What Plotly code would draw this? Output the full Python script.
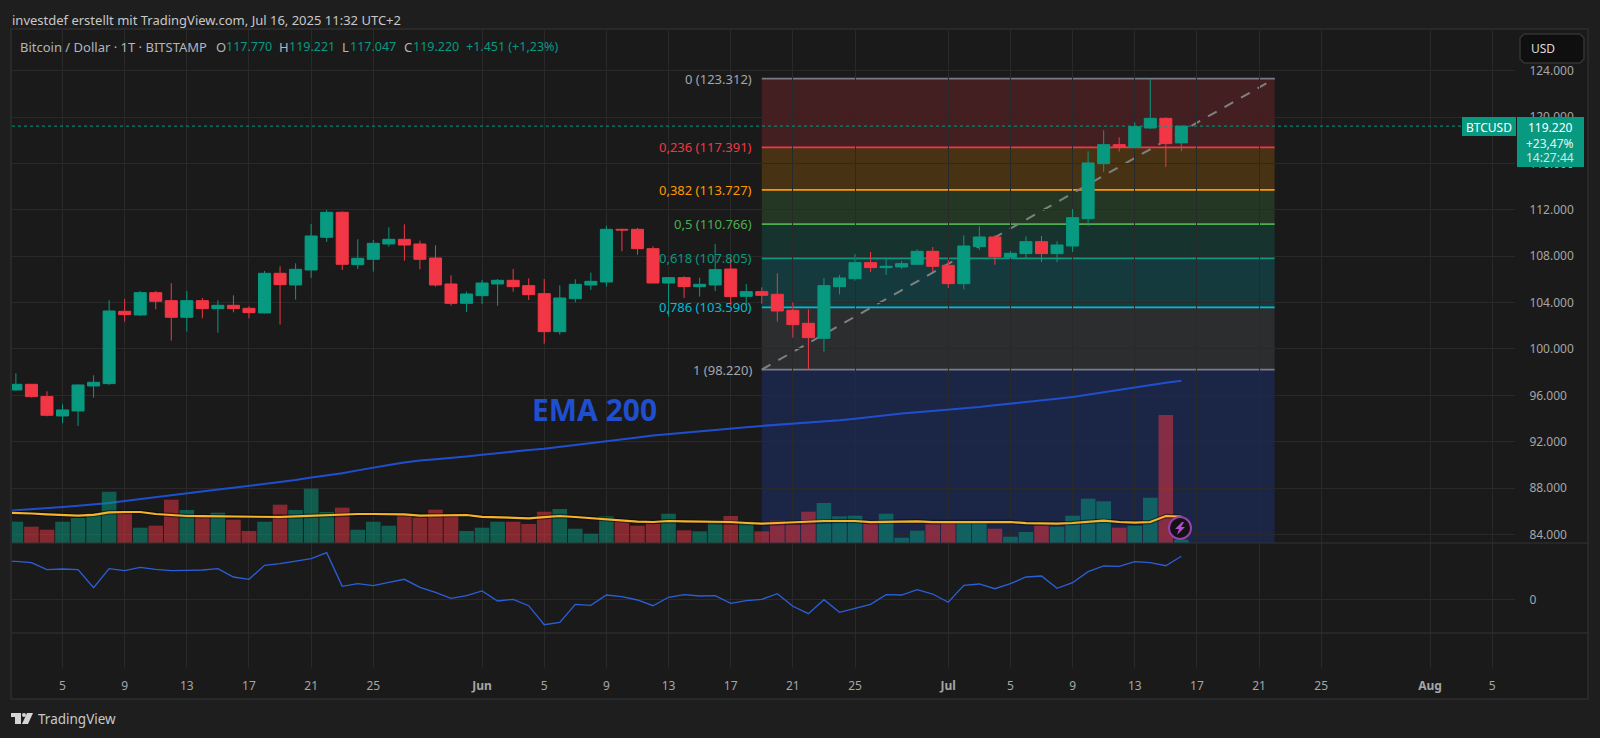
#!/usr/bin/env python3
"""BTC/USD daily chart with fib retracement, EMA 200, volume and an oscillator pane."""

import pandas as pd
import plotly.graph_objects as go

W, H = 1600, 738
FONT = "Noto Sans"

# daily candles, 1 May - 16 Jul 2025
opens = [94200, 96461, 96949, 95886, 94218, 94649, 96805, 97006, 103245, 102929, 104855, 104166, 102728,
         104166, 103476, 103763, 103504, 103102, 106523, 105517, 106811, 109628, 111784, 107270, 107731,
         109053, 109454, 109052, 107844, 105602, 103934, 104595, 105602, 105918, 105458, 104768, 101490,
         104337, 105515, 105774, 110316, 110316, 108649, 105688, 106148, 105372, 105515, 106895, 104538,
         104942, 104712, 103332, 102211, 100917, 105373, 106063, 107443, 107012, 107069, 107300, 108421,
         107213, 105632, 108823, 109657, 107903, 108219, 109254, 108219, 108881, 111238, 115982, 117620,
         117390, 119058, 119892, 117770]
highs = [97400, 97898, 96949, 96346, 95225, 96949, 97726, 104194, 104309, 105000, 105000, 105660, 105000,
         104396, 104194, 104626, 103677, 106724, 107127, 107385, 110778, 111985, 111870, 109456, 109398,
         110490, 110748, 109339, 108936, 106349, 104940, 105946, 106033, 106895, 106090, 106033, 105486,
         106004, 106579, 110633, 110374, 110431, 108850, 106148, 106263, 106148, 109052, 107873, 105602,
         105316, 106523, 104022, 103418, 106121, 106379, 108191, 108363, 107759, 107587, 108593, 108794,
         107673, 109800, 110577, 109829, 108449, 109714, 109743, 109283, 112072, 117045, 118857, 118253,
         119547, 123312, 119978, 119221]
lows = [94100, 96374, 95800, 94190, 93585, 93355, 95800, 96892, 102354, 102843, 103418, 100715, 101492,
        102642, 101406, 103160, 102642, 103073, 102096, 104252, 106121, 109225, 106811, 106897, 106667,
        108823, 107614, 106867, 105372, 103733, 103186, 103877, 103733, 104940, 104221, 100455, 101232,
        104020, 105084, 105372, 108419, 108131, 105660, 102784, 104394, 104509, 104998, 103733, 103790,
        103907, 102354, 100974, 98220, 99767, 104712, 105891, 106638, 106379, 106897, 107243, 106638,
        105258, 105143, 108536, 107270, 107845, 107845, 107500, 107500, 108363, 110605, 115263, 117017,
        117276, 118972, 115694, 117047]
closes = [96500, 96949, 95886, 94275, 94735, 96892, 97122, 103274, 102958, 104855, 104108, 102728, 104166,
          103476, 103763, 103476, 103131, 106523, 105546, 106868, 109743, 111784, 107300, 107817, 109110,
          109456, 108965, 107729, 105515, 103934, 104739, 105688, 105918, 105372, 104681, 101490, 104394,
          105573, 105831, 110316, 110260, 108649, 105688, 106148, 105372, 105573, 106838, 104509, 104940,
          104626, 103274, 102095, 100974, 105459, 106121, 107443, 107012, 107127, 107357, 108421, 107127,
          105632, 108881, 109657, 107960, 108248, 109254, 108219, 108967, 111324, 116039, 117620, 117390,
          119173, 119892, 117707, 119220]
ema_200 = [85980, 86063, 86150, 86236, 86365, 86469, 86581, 86710, 86883, 87055, 87228, 87400, 87573, 87719,
           87875, 88021, 88177, 88349, 88522, 88694, 88910, 89082, 89281, 89522, 89772, 89988, 90195, 90376,
           90480, 90574, 90721, 90868, 91023, 91161, 91282, 91385, 91541, 91687, 91851, 92024, 92196, 92360,
           92533, 92662, 92783, 92904, 93016, 93137, 93249, 93361, 93447, 93534, 93620, 93732, 93844, 93973,
           94129, 94301, 94431, 94534, 94646, 94732, 94862, 94991, 95138, 95267, 95397, 95543, 95699, 95854,
           96069, 96285, 96501, 96716, 96906, 97087, 97260]
volume = [30, 21.3, 16.3, 13.3, 21.3, 25, 30, 51.3, 31, 15.3, 17.3, 43.3, 33, 27.3, 30.3, 23.3, 12, 21.3, 38.3,
          33, 54.3, 31, 35.3, 13.3, 21.3, 17.3, 28.3, 25.3, 33.3, 28.3, 12, 15.3, 21.3, 21.3, 19, 31.3, 34, 14.3,
          9.3, 26.7, 21.7, 17.3, 19.3, 29.3, 12.7, 11.7, 21, 27, 21.7, 11.7, 22.3, 18.7, 31.3, 40, 26.7, 27.3,
          19, 29.3, 5.3, 12.3, 18.7, 21, 21, 21, 14.3, 6.3, 11, 17.3, 16.3, 27.3, 44.3, 41.7, 15.3, 17.3, 45.3,
          128, 3.3]
volume_ma = [30.5, 30.3, 29.5, 28.7, 28, 27.3, 28.2, 30.7, 31, 31, 29, 27.8, 27, 26.8, 26.7, 26.4, 26.1, 25.7,
             26, 26.6, 27.2, 27.7, 29, 29, 29, 29, 28.7, 27.3, 27.6, 28, 28, 26.2, 25.5, 25, 24.7, 25.8, 27, 26,
             24.7, 24, 22, 21.4, 21, 22, 21.6, 21.4, 21.1, 21, 20, 19.3, 20, 20.7, 21, 22, 22, 22, 20.8, 21.3,
             21.6, 21.7, 20.9, 21, 21, 21, 21, 21, 19.8, 19.5, 19.3, 20, 21.3, 22.3, 21, 20.3, 21, 27, 26.3]
oscillator = [38, 38, 36.6, 29.6, 30.3, 29.6, 11.6, 30.6, 28.6, 32, 30, 28.6, 29, 29.3, 30.6, 22.3, 20, 34, 35.6,
              38.3, 40.6, 46.6, 13, 15.6, 13.6, 17, 20, 12, 7, 1, 3.6, 8.3, -1.7, 0, -6.4, -25.4, -23, -5, -6, 4.3,
              2.6, -0.7, -6.4, 2, 4.6, 3.3, 3.6, -4, -1.4, 0, 5.6, -7, -14.4, -0.4, -13, -9, -5, 4.6, 4.3, 9.6, 5.3,
              -3, 14, 15.3, 10.6, 15.6, 22.3, 23.3, 11, 16.6, 27.6, 33.3, 33, 37.6, 36.6, 33.6, 43]

# fib retracement drawing
fib_start = "2025-06-19"
fib_end = "2025-07-22"
fib_below = 83259
fib_ratios = ["0", "0,236", "0,382", "0,5", "0,618", "0,786", "1"]
fib_prices = [123312, 117391, 113727, 110766, 107805, 103590, 98220]
fib_colors = ["#787b86", "#f23645", "#ff9800", "#4caf50", "#089981", "#00bcd4", "#787b86"]
fib_fills = ["rgba(242,54,69,0.2)", "rgba(255,152,0,0.2)", "rgba(76,175,80,0.2)", "rgba(8,153,129,0.2)",
             "rgba(0,188,212,0.2)", "rgba(120,123,134,0.2)", "rgba(33,87,243,0.2)"]

tick_dates = ["2025-05-05", "2025-05-09", "2025-05-13", "2025-05-17", "2025-05-21", "2025-05-25", "2025-06-01",
              "2025-06-05", "2025-06-09", "2025-06-13", "2025-06-17", "2025-06-21", "2025-06-25", "2025-07-01",
              "2025-07-05", "2025-07-09", "2025-07-13", "2025-07-17", "2025-07-21", "2025-07-25", "2025-08-01",
              "2025-08-05"]
tick_labels = ["5", "9", "13", "17", "21", "25", "<b>Jun</b>", "5", "9", "13", "17", "21", "25", "<b>Jul</b>",
               "5", "9", "13", "17", "21", "25", "<b>Aug</b>", "5"]

GREEN = "#089981"
RED = "#f23645"
GRID = "#292929"
TEXT = "#b2b5be"


def px(x):
    return x / W


def py(y):
    return 1 - y / H


def poly(points):
    return "M" + " L".join(f"{px(x):.5f},{py(y):.5f}" for x, y in points) + " Z"


def label(fig, x, y, text, color=TEXT, size=12, anchor="left"):
    fig.add_annotation(
        xref="paper", yref="paper", x=px(x), y=py(y), text=text, showarrow=False,
        xanchor=anchor, yanchor="middle", font=dict(color=color, size=size, family=FONT),
    )


dates = pd.date_range("2025-05-01", periods=len(closes), freq="D")
for series in (opens, highs, lows, ema_200, volume, volume_ma, oscillator):
    assert len(series) == len(dates)

fig = go.Figure()

volume_colors = [
    "rgba(8,153,129,0.52)" if c >= o else "rgba(242,54,69,0.5)" for o, c in zip(opens, closes)
]
fig.add_trace(go.Bar(x=dates, y=volume, marker=dict(color=volume_colors, line=dict(width=0)), yaxis="y4"))
fig.add_trace(go.Scatter(x=dates, y=volume_ma, mode="lines", line=dict(color="rgba(0,0,0,0.45)", width=4.5), yaxis="y4"))
fig.add_trace(go.Scatter(x=dates, y=volume_ma, mode="lines", line=dict(color="#f5b32a", width=2.2), yaxis="y4"))
fig.add_trace(go.Candlestick(
    x=dates, open=opens, high=highs, low=lows, close=closes,
    increasing=dict(line=dict(color=GREEN, width=1), fillcolor=GREEN),
    decreasing=dict(line=dict(color=RED, width=1), fillcolor=RED),
))
fig.add_trace(go.Scatter(x=dates, y=ema_200, mode="lines", line=dict(color="#1f4fcf", width=2)))
fig.add_trace(go.Scatter(x=dates, y=oscillator, mode="lines", line=dict(color="#2b5fd9", width=1.3), yaxis="y2"))
# empty pane under the oscillator, only carries the time axis
fig.add_trace(go.Scatter(x=[dates[0]], y=[0], mode="none", yaxis="y3"))

# page panel
fig.add_shape(type="rect", xref="paper", yref="paper", x0=px(11), x1=px(1588), y0=py(699), y1=py(29),
              fillcolor="#1a1a1a", line=dict(color="#2e2e2e", width=1.5), layer="below")

# fib bands and level lines
band_edges = fib_prices + [fib_below]
for i, fill in enumerate(fib_fills):
    fig.add_shape(type="rect", x0=fib_start, x1=fib_end, y0=band_edges[i], y1=band_edges[i + 1],
                  fillcolor=fill, line=dict(width=0), layer="below")
for price, color, ratio in zip(fib_prices, fib_colors, fib_ratios):
    fig.add_shape(type="line", x0=fib_start, x1=fib_end, y0=price, y1=price,
                  line=dict(color=color, width=1.8), layer="below")
    fig.add_annotation(
        x=fib_start, y=price, text=f"{ratio} ({price // 1000}.{price % 1000:03d})",
        showarrow=False, xanchor="right", xshift=-8, yanchor="middle",
        font=dict(color="#a3a6af" if color == "#787b86" else color, size=13, family=FONT),
    )
fig.add_shape(type="line", x0=fib_start, x1=fib_end, y0=fib_prices[-1], y1=fib_prices[0],
              line=dict(color="#808080", width=2, dash="10px,9px"), layer="below")

# last price line
fig.add_shape(type="line", xref="x domain", x0=0, x1=1, y0=closes[-1], y1=closes[-1],
              line=dict(color=GREEN, width=1, dash="dot"))

# pane dividers
for y in (543, 633):
    fig.add_shape(type="line", xref="paper", yref="paper", x0=px(12), x1=px(1588), y0=py(y), y1=py(y),
                  line=dict(color="#323232", width=1))

fig.add_annotation(x="2025-06-08", y=94733, xanchor="center", xshift=4, text="<b>EMA 200</b>", showarrow=False,
                   font=dict(color="#1f4fcf", size=30, family=FONT))

# header texts
label(fig, 10, 20, "investdef erstellt mit TradingView.com, Jul 16, 2025 11:32 UTC+2", "#c8c8c8", 13)
label(fig, 18, 47, "Bitcoin / Dollar · 1T · BITSTAMP", TEXT, 13)
for x, letter, value_x, value in [(214, "O", 224, "117.770"), (277, "H", 287, "119.221"),
                                  (340, "L", 348, "117.047"), (402, "C", 411, "119.220")]:
    label(fig, x, 47, letter, TEXT, 13)
    label(fig, value_x, 47, value, GREEN, 12.5)
label(fig, 464, 47, "+1.451 (+1,23%)", GREEN, 12.5)

# USD button
fig.add_shape(type="path", xref="paper", yref="paper",
              path=poly([(1524, 34), (1580, 34), (1584, 38), (1584, 59), (1580, 63), (1524, 63), (1520, 59), (1520, 38)]),
              fillcolor="#0f0f0f", line=dict(color="#333333", width=1.5))
label(fig, 1529, 48, "USD", "#dcdcdc", 12)

# price tags
fig.add_shape(type="rect", xref="paper", yref="paper", x0=px(1462), x1=px(1516), y0=py(136), y1=py(117),
              fillcolor=GREEN, line=dict(width=0))
fig.add_shape(type="rect", xref="paper", yref="paper", x0=px(1517), x1=px(1584), y0=py(167), y1=py(117),
              fillcolor=GREEN, line=dict(width=0))
label(fig, 1489, 127, "BTCUSD", "#ffffff", 12, "center")
label(fig, 1550, 127, "119.220", "#ffffff", 12, "center")
label(fig, 1550, 143, "+23,47%", "#e6f5f2", 12, "center")
label(fig, 1550, 158, "14:27:44", "#cfeae5", 12, "center")

# badge on the last bar
fig.add_shape(type="circle", xref="paper", yref="paper", x0=px(1169), x1=px(1191), y0=py(539), y1=py(517),
              fillcolor="#131313", line=dict(color="#9a3fb0", width=2))
fig.add_shape(type="path", xref="paper", yref="paper",
              path=poly([(1182, 522), (1175, 529), (1179, 529), (1177, 535), (1185, 527), (1181, 527), (1184, 522)]),
              fillcolor="#b24fd1", line=dict(width=0))

# TradingView mark and name
fig.add_shape(type="path", xref="paper", yref="paper",
              path=poly([(11, 713), (21, 713), (21, 724), (15, 724), (15, 717), (11, 717)]),
              fillcolor="#d5d5d5", line=dict(width=0))
fig.add_shape(type="circle", xref="paper", yref="paper", x0=px(22), x1=px(26), y0=py(717), y1=py(713),
              fillcolor="#d5d5d5", line=dict(width=0))
fig.add_shape(type="path", xref="paper", yref="paper",
              path=poly([(27, 713), (33, 713), (28, 724), (22, 724)]),
              fillcolor="#d5d5d5", line=dict(width=0))
label(fig, 36, 719, "TradingView", "#c8c8c8", 13.5)

fig.update_layout(
    width=W, height=H, autosize=False, showlegend=False,
    margin=dict(l=0, r=0, t=0, b=0),
    paper_bgcolor="#1e1e1e", plot_bgcolor="#1a1a1a",
    separators=",.", bargap=0.06, boxgap=0.1, boxgroupgap=0.14,
    font=dict(family=FONT, color=TEXT, size=12),
    xaxis=dict(
        domain=[px(12), px(1515)], anchor="y3", type="date",
        range=["2025-05-01 18:00", "2025-08-06 11:17"], rangeslider=dict(visible=False),
        tickmode="array", tickvals=tick_dates, ticktext=tick_labels,
        showgrid=True, gridcolor=GRID, gridwidth=1, zeroline=False, showline=False,
        ticks="outside", ticklen=7, tickcolor="rgba(0,0,0,0)", tickfont=dict(color="#a6a6a6", size=12),
    ),
    yaxis=dict(
        domain=[py(543), py(29)], range=[83259, 127597], side="right", anchor="x",
        tick0=84000, dtick=4000, tickformat=",d", showgrid=True, gridcolor=GRID, zeroline=False,
        ticks="outside", ticklen=11, tickcolor="rgba(0,0,0,0)", tickfont=dict(color="#a6a6a6", size=12),
    ),
    yaxis2=dict(
        domain=[py(633), py(543)], range=[-33.7, 56.3], side="right", anchor="x",
        tickmode="array", tickvals=[0], ticktext=["0"], showgrid=True, gridcolor=GRID, zeroline=False,
        ticks="outside", ticklen=11, tickcolor="rgba(0,0,0,0)", tickfont=dict(color="#a6a6a6", size=12),
    ),
    yaxis3=dict(domain=[py(668), py(633)], range=[0, 1], anchor="x", showgrid=False, zeroline=False,
                showticklabels=False),
    yaxis4=dict(domain=[py(543), py(29)], range=[0, 514], overlaying="y", visible=False),
)

fig.write_html(
    "out.html",
    config={"displayModeBar": False},
    post_script="document.body.style.margin='0';document.body.style.background='#1e1e1e';",
)
